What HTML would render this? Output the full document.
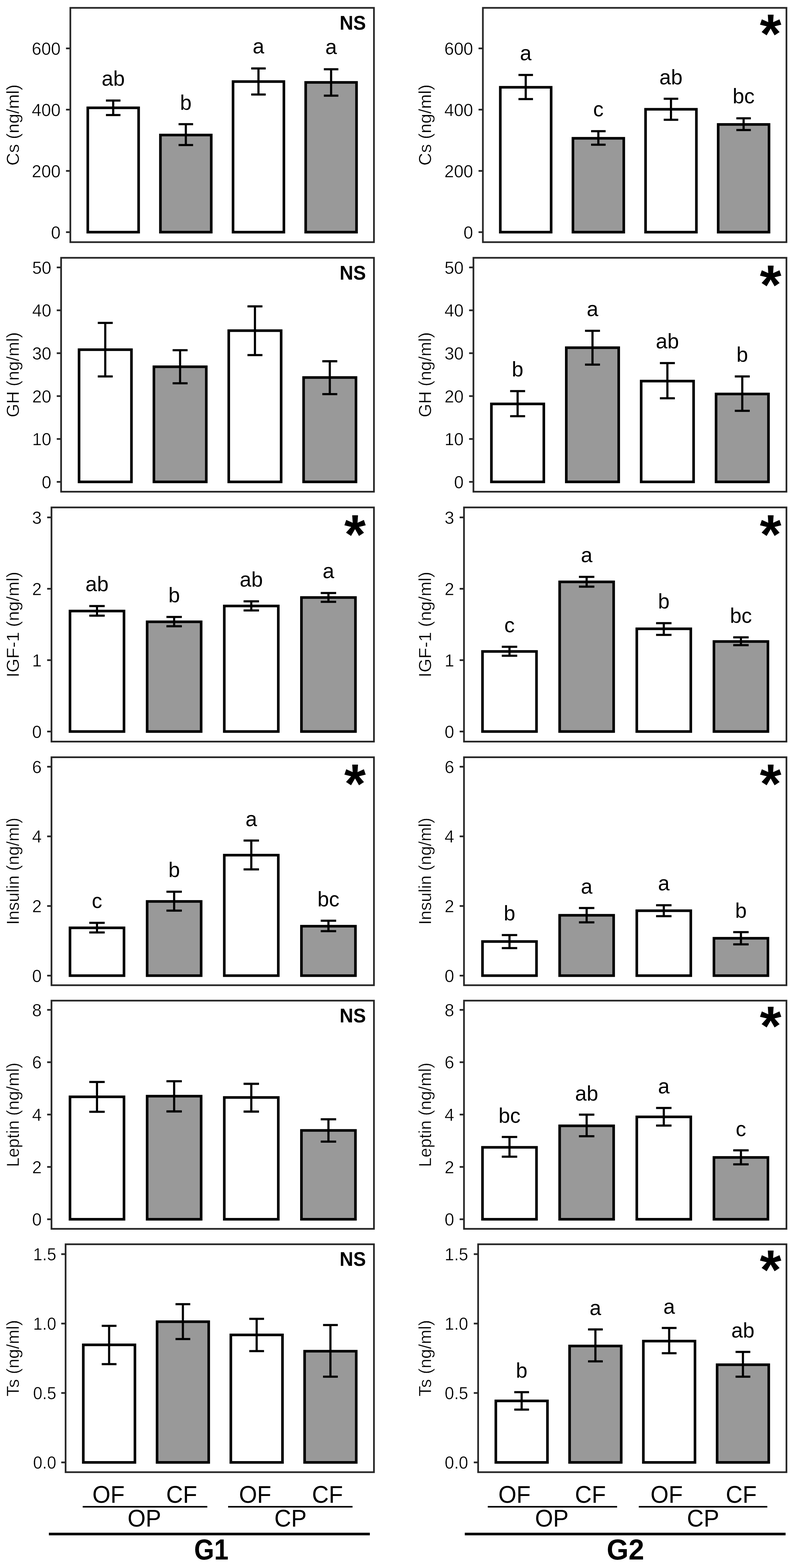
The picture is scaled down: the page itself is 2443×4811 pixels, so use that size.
<!DOCTYPE html>
<html lang="en">
<head>
<meta charset="utf-8">
<title>Hormone concentrations G1 / G2</title>
<style>
html,body{margin:0;padding:0;background:#fff;}
body{width:2443px;height:4811px;overflow:hidden;}
svg{display:block;}
text{font-family:"Liberation Sans",Arial,Helvetica,sans-serif;fill:#000;}
.bar{stroke:#000;stroke-width:8.0;stroke-linejoin:miter;}
.err{stroke:#000;stroke-width:6.6;fill:none;}
.frame{stroke:#262626;stroke-width:5.2;fill:none;}
.tick{stroke:#262626;stroke-width:5.2;fill:none;}
.ax{font-size:54px;text-anchor:end;stroke:#fff;stroke-width:0.7px;}
.ti{font-size:54px;text-anchor:middle;stroke:#fff;stroke-width:0.7px;}
.let{font-size:64.5px;text-anchor:middle;}
.ns{font-size:60.5px;font-weight:bold;text-anchor:end;}
.ast{font-size:171.5px;font-weight:bold;text-anchor:middle;}
.bl{font-size:73.5px;text-anchor:middle;}
.g{font-size:89px;font-weight:bold;text-anchor:middle;}
.l1{stroke:#000;stroke-width:4.8;fill:none;}
.l2{stroke:#000;stroke-width:8;fill:none;}
</style>
</head>
<body>
<svg width="2443" height="4811" viewBox="0 0 2443 4811">
<rect x="0" y="0" width="2443" height="4811" fill="#ffffff"/>
<g class="col">
<g class="panel">
<rect class="bar" x="269.4" y="330.8" width="156.04" height="381.5" fill="#ffffff"/>
<path class="err" d="M325.13 308.5H369.71M347.42 308.5V353M325.13 353H369.71"/>
<text class="let" transform="translate(347.42 263) scale(0.99 1)">ab</text>
<rect class="bar" x="492.32" y="414.3" width="156.04" height="298" fill="#999999"/>
<path class="err" d="M548.05 381H592.63M570.34 381V445M548.05 445H592.63"/>
<text class="let" transform="translate(570.34 336.5) scale(0.99 1)">b</text>
<rect class="bar" x="715.24" y="250.3" width="156.04" height="462" fill="#ffffff"/>
<path class="err" d="M770.97 210H815.55M793.26 210V290M770.97 290H815.55"/>
<text class="let" transform="translate(793.26 164) scale(0.99 1)">a</text>
<rect class="bar" x="938.16" y="252.8" width="156.04" height="459.5" fill="#999999"/>
<path class="err" d="M993.89 212.5H1038.47M1016.18 212.5V293.5M993.89 293.5H1038.47"/>
<text class="let" transform="translate(1016.18 166) scale(0.99 1)">a</text>
<rect class="frame" x="215.9" y="24.1" width="931.8" height="718.9"/>
<path class="tick" d="M202.6 712.3H213.8"/>
<text class="ax" transform="translate(185.9 731.6) scale(0.98 1)">0</text>
<path class="tick" d="M202.6 524.37H213.8"/>
<text class="ax" transform="translate(185.9 543.67) scale(0.98 1)">200</text>
<path class="tick" d="M202.6 336.43H213.8"/>
<text class="ax" transform="translate(185.9 355.73) scale(0.98 1)">400</text>
<path class="tick" d="M202.6 148.5H213.8"/>
<text class="ax" transform="translate(185.9 167.8) scale(0.98 1)">600</text>
<text class="ti" transform="translate(58 383.55) rotate(-90) scale(1 1)">Cs (ng/ml)</text>
<text class="ns" transform="translate(1123 90.7) scale(0.96 1)">NS</text>
</g>
<g class="panel">
<rect class="bar" x="242.63" y="1072.9" width="160.8" height="405.6" fill="#ffffff"/>
<path class="err" d="M300.06 990.7H346M323.03 990.7V1155M300.06 1155H346"/>
<rect class="bar" x="472.34" y="1125.3" width="160.8" height="353.2" fill="#999999"/>
<path class="err" d="M529.77 1074.5H575.71M552.74 1074.5V1176M529.77 1176H575.71"/>
<rect class="bar" x="702.06" y="1014.5" width="160.8" height="464" fill="#ffffff"/>
<path class="err" d="M759.49 940H805.43M782.46 940V1089.5M759.49 1089.5H805.43"/>
<rect class="bar" x="931.77" y="1158.3" width="160.8" height="320.2" fill="#999999"/>
<path class="err" d="M989.2 1108.4H1035.14M1012.17 1108.4V1209.3M989.2 1209.3H1035.14"/>
<rect class="frame" x="187.5" y="791" width="960.2" height="717.7"/>
<path class="tick" d="M174.2 1478.5H185.4"/>
<text class="ax" transform="translate(157.5 1497.8) scale(0.98 1)">0</text>
<path class="tick" d="M174.2 1346.9H185.4"/>
<text class="ax" transform="translate(157.5 1366.2) scale(0.98 1)">10</text>
<path class="tick" d="M174.2 1215.3H185.4"/>
<text class="ax" transform="translate(157.5 1234.6) scale(0.98 1)">20</text>
<path class="tick" d="M174.2 1083.7H185.4"/>
<text class="ax" transform="translate(157.5 1103) scale(0.98 1)">30</text>
<path class="tick" d="M174.2 952.1H185.4"/>
<text class="ax" transform="translate(157.5 971.4) scale(0.98 1)">40</text>
<path class="tick" d="M174.2 820.5H185.4"/>
<text class="ax" transform="translate(157.5 839.8) scale(0.98 1)">50</text>
<text class="ti" transform="translate(58 1149.85) rotate(-90) scale(0.99 1)">GH (ng/ml)</text>
<text class="ns" transform="translate(1123 857.6) scale(0.96 1)">NS</text>
</g>
<g class="panel">
<rect class="bar" x="214.82" y="1874.8" width="165.74" height="369.7" fill="#ffffff"/>
<path class="err" d="M274.02 1859.5H321.37M297.69 1859.5V1889M274.02 1889H321.37"/>
<text class="let" transform="translate(297.69 1814) scale(0.99 1)">ab</text>
<rect class="bar" x="451.6" y="1907.8" width="165.74" height="336.7" fill="#999999"/>
<path class="err" d="M510.79 1893H558.14M534.46 1893V1921.5M510.79 1921.5H558.14"/>
<text class="let" transform="translate(534.46 1847.5) scale(0.99 1)">b</text>
<rect class="bar" x="688.37" y="1859.3" width="165.74" height="385.2" fill="#ffffff"/>
<path class="err" d="M747.56 1845H794.91M771.24 1845V1873M747.56 1873H794.91"/>
<text class="let" transform="translate(771.24 1800) scale(0.99 1)">ab</text>
<rect class="bar" x="925.14" y="1833.3" width="165.74" height="411.2" fill="#999999"/>
<path class="err" d="M984.33 1819.5H1031.68M1008.01 1819.5V1846.5M984.33 1846.5H1031.68"/>
<text class="let" transform="translate(1008.01 1774) scale(0.99 1)">a</text>
<rect class="frame" x="158" y="1556.9" width="989.7" height="718.5"/>
<path class="tick" d="M144.7 2244.5H155.9"/>
<text class="ax" transform="translate(128 2263.8) scale(0.98 1)">0</text>
<path class="tick" d="M144.7 2025.5H155.9"/>
<text class="ax" transform="translate(128 2044.8) scale(0.98 1)">1</text>
<path class="tick" d="M144.7 1806.5H155.9"/>
<text class="ax" transform="translate(128 1825.8) scale(0.98 1)">2</text>
<path class="tick" d="M144.7 1587.5H155.9"/>
<text class="ax" transform="translate(128 1606.8) scale(0.98 1)">3</text>
<text class="ti" transform="translate(58 1916.15) rotate(-90) scale(1.01 1)">IGF-1 (ng/ml)</text>
<text class="ast" transform="translate(1089.6 1698.5) scale(0.99 1)">*</text>
</g>
<g class="panel">
<rect class="bar" x="214.82" y="2846.8" width="165.74" height="146.7" fill="#ffffff"/>
<path class="err" d="M274.02 2831.5H321.37M297.69 2831.5V2861M274.02 2861H321.37"/>
<text class="let" transform="translate(297.69 2786) scale(0.99 1)">c</text>
<rect class="bar" x="451.6" y="2765.8" width="165.74" height="227.7" fill="#999999"/>
<path class="err" d="M510.79 2736H558.14M534.46 2736V2794M510.79 2794H558.14"/>
<text class="let" transform="translate(534.46 2691) scale(0.99 1)">b</text>
<rect class="bar" x="688.37" y="2623.8" width="165.74" height="369.7" fill="#ffffff"/>
<path class="err" d="M747.56 2579H794.91M771.24 2579V2667.5M747.56 2667.5H794.91"/>
<text class="let" transform="translate(771.24 2535) scale(0.99 1)">a</text>
<rect class="bar" x="925.14" y="2841.8" width="165.74" height="151.7" fill="#999999"/>
<path class="err" d="M984.33 2825H1031.68M1008.01 2825V2857M984.33 2857H1031.68"/>
<text class="let" transform="translate(1008.01 2780.5) scale(0.99 1)">bc</text>
<rect class="frame" x="158" y="2323.4" width="989.7" height="699.5"/>
<path class="tick" d="M144.7 2993.5H155.9"/>
<text class="ax" transform="translate(128 3012.8) scale(0.98 1)">0</text>
<path class="tick" d="M144.7 2779.83H155.9"/>
<text class="ax" transform="translate(128 2799.13) scale(0.98 1)">2</text>
<path class="tick" d="M144.7 2566.17H155.9"/>
<text class="ax" transform="translate(128 2585.47) scale(0.98 1)">4</text>
<path class="tick" d="M144.7 2352.5H155.9"/>
<text class="ax" transform="translate(128 2371.8) scale(0.98 1)">6</text>
<text class="ti" transform="translate(58 2673.15) rotate(-90) scale(0.97 1)">Insulin (ng/ml)</text>
<text class="ast" transform="translate(1089.6 2464.2) scale(0.99 1)">*</text>
</g>
<g class="panel">
<rect class="bar" x="214.82" y="3365.3" width="165.74" height="375.7" fill="#ffffff"/>
<path class="err" d="M274.02 3319.8H321.37M297.69 3319.8V3411.3M274.02 3411.3H321.37"/>
<rect class="bar" x="451.6" y="3363.3" width="165.74" height="377.7" fill="#999999"/>
<path class="err" d="M510.79 3317.5H558.14M534.46 3317.5V3410.1M510.79 3410.1H558.14"/>
<rect class="bar" x="688.37" y="3367.3" width="165.74" height="373.7" fill="#ffffff"/>
<path class="err" d="M747.56 3325.4H794.91M771.24 3325.4V3410.6M747.56 3410.6H794.91"/>
<rect class="bar" x="925.14" y="3468.4" width="165.74" height="272.6" fill="#999999"/>
<path class="err" d="M984.33 3434.2H1031.68M1008.01 3434.2V3502.7M984.33 3502.7H1031.68"/>
<rect class="frame" x="158" y="3070.2" width="989.7" height="700.2"/>
<path class="tick" d="M144.7 3741H155.9"/>
<text class="ax" transform="translate(128 3760.3) scale(0.98 1)">0</text>
<path class="tick" d="M144.7 3580.38H155.9"/>
<text class="ax" transform="translate(128 3599.68) scale(0.98 1)">2</text>
<path class="tick" d="M144.7 3419.75H155.9"/>
<text class="ax" transform="translate(128 3439.05) scale(0.98 1)">4</text>
<path class="tick" d="M144.7 3259.12H155.9"/>
<text class="ax" transform="translate(128 3278.43) scale(0.98 1)">6</text>
<path class="tick" d="M144.7 3098.5H155.9"/>
<text class="ax" transform="translate(128 3117.8) scale(0.98 1)">8</text>
<text class="ti" transform="translate(58 3420.3) rotate(-90) scale(0.97 1)">Leptin (ng/ml)</text>
<text class="ns" transform="translate(1123 3136.8) scale(0.96 1)">NS</text>
</g>
<g class="panel">
<rect class="bar" x="255.64" y="4126.3" width="158.49" height="360.7" fill="#ffffff"/>
<path class="err" d="M312.24 4068H357.52M334.88 4068V4185.5M312.24 4185.5H357.52"/>
<rect class="bar" x="482.05" y="4055.3" width="158.49" height="431.7" fill="#999999"/>
<path class="err" d="M538.65 4001.5H583.94M561.29 4001.5V4108.5M538.65 4108.5H583.94"/>
<rect class="bar" x="708.46" y="4095.8" width="158.49" height="391.2" fill="#ffffff"/>
<path class="err" d="M765.06 4046.5H810.35M787.71 4046.5V4145.5M765.06 4145.5H810.35"/>
<rect class="bar" x="934.87" y="4145.8" width="158.49" height="341.2" fill="#999999"/>
<path class="err" d="M991.48 4065.5H1036.76M1014.12 4065.5V4224M991.48 4224H1036.76"/>
<rect class="frame" x="201.3" y="3817.7" width="946.4" height="699.3"/>
<path class="tick" d="M188 4487H199.2"/>
<text class="ax" transform="translate(172.8 4506.3) scale(0.95 1)">0.0</text>
<path class="tick" d="M188 4274H199.2"/>
<text class="ax" transform="translate(172.8 4293.3) scale(0.95 1)">0.5</text>
<path class="tick" d="M188 4061H199.2"/>
<text class="ax" transform="translate(172.8 4080.3) scale(0.95 1)">1.0</text>
<path class="tick" d="M188 3848H199.2"/>
<text class="ax" transform="translate(172.8 3867.3) scale(0.95 1)">1.5</text>
<text class="ti" transform="translate(58 4167.35) rotate(-90) scale(0.99 1)">Ts (ng/ml)</text>
<text class="ns" transform="translate(1123 3884.3) scale(0.96 1)">NS</text>
</g>
<text class="bl" transform="translate(333 4611.2) scale(0.97 1)">OF</text>
<text class="bl" transform="translate(557.5 4611.2) scale(0.97 1)">CF</text>
<text class="bl" transform="translate(783 4611.2) scale(0.97 1)">OF</text>
<text class="bl" transform="translate(1005 4611.2) scale(0.97 1)">CF</text>
<path class="l1" d="M253.8 4623.2H636.3"/>
<path class="l1" d="M700 4623.2H1082"/>
<text class="bl" transform="translate(443 4684.3) scale(0.97 1)">OP</text>
<text class="bl" transform="translate(891.5 4684.3) scale(0.97 1)">CP</text>
<path class="l2" d="M150 4706.7H1135"/>
<text class="g" transform="translate(648.5 4784.5) scale(0.89 1)">G1</text>
</g>
<g class="col">
<g class="panel">
<rect class="bar" x="1535.49" y="267.8" width="156.03" height="444.5" fill="#ffffff"/>
<path class="err" d="M1591.22 230H1635.8M1613.51 230V304M1591.22 304H1635.8"/>
<text class="let" transform="translate(1613.51 184.5) scale(0.99 1)">a</text>
<rect class="bar" x="1758.39" y="424.3" width="156.03" height="288" fill="#999999"/>
<path class="err" d="M1814.11 402.5H1858.69M1836.4 402.5V444M1814.11 444H1858.69"/>
<text class="let" transform="translate(1836.4 357) scale(0.99 1)">c</text>
<rect class="bar" x="1981.28" y="335.3" width="156.03" height="377" fill="#ffffff"/>
<path class="err" d="M2037.01 303H2081.59M2059.3 303V367.5M2037.01 367.5H2081.59"/>
<text class="let" transform="translate(2059.3 258.5) scale(0.99 1)">ab</text>
<rect class="bar" x="2204.18" y="381.8" width="156.03" height="330.5" fill="#999999"/>
<path class="err" d="M2259.9 363H2304.48M2282.19 363V399M2259.9 399H2304.48"/>
<text class="let" transform="translate(2282.19 317) scale(0.99 1)">bc</text>
<rect class="frame" x="1482" y="24.1" width="931.7" height="718.9"/>
<path class="tick" d="M1468.7 712.3H1479.9"/>
<text class="ax" transform="translate(1452 731.6) scale(0.98 1)">0</text>
<path class="tick" d="M1468.7 524.37H1479.9"/>
<text class="ax" transform="translate(1452 543.67) scale(0.98 1)">200</text>
<path class="tick" d="M1468.7 336.43H1479.9"/>
<text class="ax" transform="translate(1452 355.73) scale(0.98 1)">400</text>
<path class="tick" d="M1468.7 148.5H1479.9"/>
<text class="ax" transform="translate(1452 167.8) scale(0.98 1)">600</text>
<text class="ti" transform="translate(1322.7 383.55) rotate(-90) scale(1 1)">Cs (ng/ml)</text>
<text class="ast" transform="translate(2365.1 163) scale(0.99 1)">*</text>
</g>
<g class="panel">
<rect class="bar" x="1508.16" y="1239.3" width="160.88" height="239.2" fill="#ffffff"/>
<path class="err" d="M1565.62 1200H1611.58M1588.6 1200V1277M1565.62 1277H1611.58"/>
<text class="let" transform="translate(1588.6 1154.5) scale(0.99 1)">b</text>
<rect class="bar" x="1737.99" y="1066.8" width="160.88" height="411.7" fill="#999999"/>
<path class="err" d="M1795.45 1015H1841.42M1818.43 1015V1118.7M1795.45 1118.7H1841.42"/>
<text class="let" transform="translate(1818.43 969.5) scale(0.99 1)">a</text>
<rect class="bar" x="1967.82" y="1169.3" width="160.88" height="309.2" fill="#ffffff"/>
<path class="err" d="M2025.28 1114H2071.25M2048.27 1114V1222M2025.28 1222H2071.25"/>
<text class="let" transform="translate(2048.27 1068.5) scale(0.99 1)">ab</text>
<rect class="bar" x="2197.66" y="1208.8" width="160.88" height="269.7" fill="#999999"/>
<path class="err" d="M2255.12 1155H2301.08M2278.1 1155V1260.5M2255.12 1260.5H2301.08"/>
<text class="let" transform="translate(2278.1 1109.8) scale(0.99 1)">b</text>
<rect class="frame" x="1453" y="791" width="960.7" height="717.7"/>
<path class="tick" d="M1439.7 1478.5H1450.9"/>
<text class="ax" transform="translate(1423 1497.8) scale(0.98 1)">0</text>
<path class="tick" d="M1439.7 1346.9H1450.9"/>
<text class="ax" transform="translate(1423 1366.2) scale(0.98 1)">10</text>
<path class="tick" d="M1439.7 1215.3H1450.9"/>
<text class="ax" transform="translate(1423 1234.6) scale(0.98 1)">20</text>
<path class="tick" d="M1439.7 1083.7H1450.9"/>
<text class="ax" transform="translate(1423 1103) scale(0.98 1)">30</text>
<path class="tick" d="M1439.7 952.1H1450.9"/>
<text class="ax" transform="translate(1423 971.4) scale(0.98 1)">40</text>
<path class="tick" d="M1439.7 820.5H1450.9"/>
<text class="ax" transform="translate(1423 839.8) scale(0.98 1)">50</text>
<text class="ti" transform="translate(1322.7 1149.85) rotate(-90) scale(0.99 1)">GH (ng/ml)</text>
<text class="ast" transform="translate(2365.1 933.2) scale(0.99 1)">*</text>
</g>
<g class="panel">
<rect class="bar" x="1480.82" y="1998.8" width="165.74" height="245.7" fill="#ffffff"/>
<path class="err" d="M1540.02 1984.5H1587.37M1563.69 1984.5V2012M1540.02 2012H1587.37"/>
<text class="let" transform="translate(1563.69 1940) scale(0.99 1)">c</text>
<rect class="bar" x="1717.6" y="1785.3" width="165.74" height="459.2" fill="#999999"/>
<path class="err" d="M1776.79 1770H1824.14M1800.46 1770V1800M1776.79 1800H1824.14"/>
<text class="let" transform="translate(1800.46 1724.5) scale(0.99 1)">a</text>
<rect class="bar" x="1954.37" y="1929.3" width="165.74" height="315.2" fill="#ffffff"/>
<path class="err" d="M2013.56 1912H2060.91M2037.24 1912V1948M2013.56 1948H2060.91"/>
<text class="let" transform="translate(2037.24 1866.5) scale(0.99 1)">b</text>
<rect class="bar" x="2191.14" y="1968.3" width="165.74" height="276.2" fill="#999999"/>
<path class="err" d="M2250.33 1955.5H2297.68M2274.01 1955.5V1979.5M2250.33 1979.5H2297.68"/>
<text class="let" transform="translate(2274.01 1911) scale(0.99 1)">bc</text>
<rect class="frame" x="1424" y="1556.9" width="989.7" height="718.5"/>
<path class="tick" d="M1410.7 2244.5H1421.9"/>
<text class="ax" transform="translate(1394 2263.8) scale(0.98 1)">0</text>
<path class="tick" d="M1410.7 2025.5H1421.9"/>
<text class="ax" transform="translate(1394 2044.8) scale(0.98 1)">1</text>
<path class="tick" d="M1410.7 1806.5H1421.9"/>
<text class="ax" transform="translate(1394 1825.8) scale(0.98 1)">2</text>
<path class="tick" d="M1410.7 1587.5H1421.9"/>
<text class="ax" transform="translate(1394 1606.8) scale(0.98 1)">3</text>
<text class="ti" transform="translate(1322.7 1916.15) rotate(-90) scale(1.01 1)">IGF-1 (ng/ml)</text>
<text class="ast" transform="translate(2365.1 1698.5) scale(0.99 1)">*</text>
</g>
<g class="panel">
<rect class="bar" x="1480.82" y="2888.8" width="165.74" height="104.7" fill="#ffffff"/>
<path class="err" d="M1540.02 2869H1587.37M1563.69 2869V2909M1540.02 2909H1587.37"/>
<text class="let" transform="translate(1563.69 2824) scale(0.99 1)">b</text>
<rect class="bar" x="1717.6" y="2808.3" width="165.74" height="185.2" fill="#999999"/>
<path class="err" d="M1776.79 2786H1824.14M1800.46 2786V2830M1776.79 2830H1824.14"/>
<text class="let" transform="translate(1800.46 2742) scale(0.99 1)">a</text>
<rect class="bar" x="1954.37" y="2794.3" width="165.74" height="199.2" fill="#ffffff"/>
<path class="err" d="M2013.56 2777.5H2060.91M2037.24 2777.5V2811M2013.56 2811H2060.91"/>
<text class="let" transform="translate(2037.24 2732) scale(0.99 1)">a</text>
<rect class="bar" x="2191.14" y="2878.8" width="165.74" height="114.7" fill="#999999"/>
<path class="err" d="M2250.33 2860H2297.68M2274.01 2860V2897.5M2250.33 2897.5H2297.68"/>
<text class="let" transform="translate(2274.01 2815.5) scale(0.99 1)">b</text>
<rect class="frame" x="1424" y="2323.4" width="989.7" height="699.5"/>
<path class="tick" d="M1410.7 2993.5H1421.9"/>
<text class="ax" transform="translate(1394 3012.8) scale(0.98 1)">0</text>
<path class="tick" d="M1410.7 2779.83H1421.9"/>
<text class="ax" transform="translate(1394 2799.13) scale(0.98 1)">2</text>
<path class="tick" d="M1410.7 2566.17H1421.9"/>
<text class="ax" transform="translate(1394 2585.47) scale(0.98 1)">4</text>
<path class="tick" d="M1410.7 2352.5H1421.9"/>
<text class="ax" transform="translate(1394 2371.8) scale(0.98 1)">6</text>
<text class="ti" transform="translate(1322.7 2673.15) rotate(-90) scale(0.97 1)">Insulin (ng/ml)</text>
<text class="ast" transform="translate(2365.1 2464.2) scale(0.99 1)">*</text>
</g>
<g class="panel">
<rect class="bar" x="1480.82" y="3520.3" width="165.74" height="220.7" fill="#ffffff"/>
<path class="err" d="M1540.02 3488.5H1587.37M1563.69 3488.5V3549M1540.02 3549H1587.37"/>
<text class="let" transform="translate(1563.69 3445) scale(0.99 1)">bc</text>
<rect class="bar" x="1717.6" y="3454.3" width="165.74" height="286.7" fill="#999999"/>
<path class="err" d="M1776.79 3420H1824.14M1800.46 3420V3486.3M1776.79 3486.3H1824.14"/>
<text class="let" transform="translate(1800.46 3377) scale(0.99 1)">ab</text>
<rect class="bar" x="1954.37" y="3426.8" width="165.74" height="314.2" fill="#ffffff"/>
<path class="err" d="M2013.56 3399.5H2060.91M2037.24 3399.5V3453.5M2013.56 3453.5H2060.91"/>
<text class="let" transform="translate(2037.24 3355) scale(0.99 1)">a</text>
<rect class="bar" x="2191.14" y="3551.3" width="165.74" height="189.7" fill="#999999"/>
<path class="err" d="M2250.33 3529.5H2297.68M2274.01 3529.5V3572.5M2250.33 3572.5H2297.68"/>
<text class="let" transform="translate(2274.01 3486) scale(0.99 1)">c</text>
<rect class="frame" x="1424" y="3070.2" width="989.7" height="700.2"/>
<path class="tick" d="M1410.7 3741H1421.9"/>
<text class="ax" transform="translate(1394 3760.3) scale(0.98 1)">0</text>
<path class="tick" d="M1410.7 3580.38H1421.9"/>
<text class="ax" transform="translate(1394 3599.68) scale(0.98 1)">2</text>
<path class="tick" d="M1410.7 3419.75H1421.9"/>
<text class="ax" transform="translate(1394 3439.05) scale(0.98 1)">4</text>
<path class="tick" d="M1410.7 3259.12H1421.9"/>
<text class="ax" transform="translate(1394 3278.43) scale(0.98 1)">6</text>
<path class="tick" d="M1410.7 3098.5H1421.9"/>
<text class="ax" transform="translate(1394 3117.8) scale(0.98 1)">8</text>
<text class="ti" transform="translate(1322.7 3420.3) rotate(-90) scale(0.97 1)">Leptin (ng/ml)</text>
<text class="ast" transform="translate(2365.1 3206.9) scale(0.99 1)">*</text>
</g>
<g class="panel">
<rect class="bar" x="1521.73" y="4298.3" width="158.47" height="188.7" fill="#ffffff"/>
<path class="err" d="M1578.33 4271.5H1623.61M1600.97 4271.5V4325M1578.33 4325H1623.61"/>
<text class="let" transform="translate(1600.97 4227) scale(0.99 1)">b</text>
<rect class="bar" x="1748.12" y="4129.8" width="158.47" height="357.2" fill="#999999"/>
<path class="err" d="M1804.72 4079H1849.99M1827.36 4079V4177M1804.72 4177H1849.99"/>
<text class="let" transform="translate(1827.36 4034.5) scale(0.99 1)">a</text>
<rect class="bar" x="1974.51" y="4114.8" width="158.47" height="372.2" fill="#ffffff"/>
<path class="err" d="M2031.11 4074.5H2076.38M2053.74 4074.5V4152M2031.11 4152H2076.38"/>
<text class="let" transform="translate(2053.74 4030.5) scale(0.99 1)">a</text>
<rect class="bar" x="2200.9" y="4187.3" width="158.47" height="299.7" fill="#999999"/>
<path class="err" d="M2257.49 4148H2302.77M2280.13 4148V4224M2257.49 4224H2302.77"/>
<text class="let" transform="translate(2280.13 4104) scale(0.99 1)">ab</text>
<rect class="frame" x="1467.4" y="3817.7" width="946.3" height="699.3"/>
<path class="tick" d="M1454.1 4487H1465.3"/>
<text class="ax" transform="translate(1436.9 4506.3) scale(0.96 1)">0.0</text>
<path class="tick" d="M1454.1 4274H1465.3"/>
<text class="ax" transform="translate(1436.9 4293.3) scale(0.96 1)">0.5</text>
<path class="tick" d="M1454.1 4061H1465.3"/>
<text class="ax" transform="translate(1436.9 4080.3) scale(0.96 1)">1.0</text>
<path class="tick" d="M1454.1 3848H1465.3"/>
<text class="ax" transform="translate(1436.9 3867.3) scale(0.96 1)">1.5</text>
<text class="ti" transform="translate(1322.7 4167.35) rotate(-90) scale(0.99 1)">Ts (ng/ml)</text>
<text class="ast" transform="translate(2365.1 3955.4) scale(0.99 1)">*</text>
</g>
<text class="bl" transform="translate(1579 4611.2) scale(0.97 1)">OF</text>
<text class="bl" transform="translate(1812 4611.2) scale(0.97 1)">CF</text>
<text class="bl" transform="translate(2046 4611.2) scale(0.97 1)">OF</text>
<text class="bl" transform="translate(2275 4611.2) scale(0.97 1)">CF</text>
<path class="l1" d="M1497 4623.2H1894"/>
<path class="l1" d="M1960.5 4623.2H2355"/>
<text class="bl" transform="translate(1693.5 4684.3) scale(0.97 1)">OP</text>
<text class="bl" transform="translate(2157.7 4684.3) scale(0.97 1)">CP</text>
<path class="l2" d="M1426.5 4706.7H2411"/>
<text class="g" transform="translate(1919.5 4784.5) scale(0.97 1)">G2</text>
</g>
</svg>
</body>
</html>
